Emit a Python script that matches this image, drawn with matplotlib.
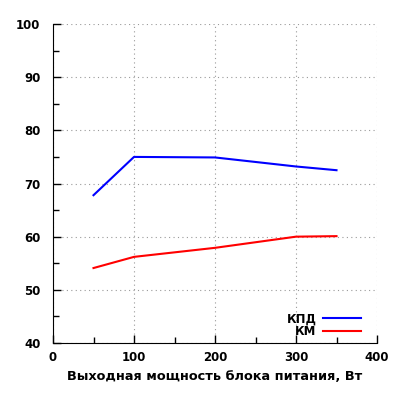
import matplotlib
matplotlib.use("Agg")
import matplotlib.pyplot as plt
from matplotlib.ticker import MultipleLocator

power = [50, 100, 200, 300, 350]
kpd = [67.8, 75.0, 74.9, 73.2, 72.5]
km = [54.1, 56.2, 57.9, 60.0, 60.1]

plt.rcParams['font.family'] = ['DejaVu Sans']
plt.rcParams['font.weight'] = 'bold'

fig = plt.figure(figsize=(4, 4), dpi=100)
ax = fig.add_axes([0.1325, 0.1425, 0.81, 0.7975])

ax.plot(power, kpd, color='#0000ff', lw=1.5, label='КПД')
ax.plot(power, km, color='#ff0000', lw=1.5, label='КМ')

ax.set_xlim(0, 400)
ax.set_ylim(40, 100)
ax.xaxis.set_major_locator(MultipleLocator(100))
ax.xaxis.set_minor_locator(MultipleLocator(50))
ax.yaxis.set_major_locator(MultipleLocator(10))
ax.yaxis.set_minor_locator(MultipleLocator(5))
ax.tick_params(which='both', direction='in', labelsize=8.5, width=1)
ax.tick_params(which='major', length=6)
ax.tick_params(which='minor', length=4)
ax.tick_params(axis='x', pad=6)
ax.tick_params(axis='y', pad=9)
for lab in ax.get_xticklabels() + ax.get_yticklabels():
    lab.set_fontweight('bold')
ax.spines['top'].set_visible(False)
ax.spines['right'].set_visible(False)
ax.grid(True, which='major', linestyle=(0, (1, 3)), color='#999999', lw=0.8)
ax.set_axisbelow(True)

ax.set_xlabel('Выходная мощность блока питания, Вт', fontsize=9.25, fontweight='bold', labelpad=4)

leg = ax.legend(loc='lower right', bbox_to_anchor=(0.966, 0.0), frameon=False, markerfirst=False,
                handlelength=3.2, labelspacing=0.0, borderaxespad=0.0, handletextpad=0.6,
                prop={'weight': 'bold', 'size': 8.5})

fig.savefig('out.png', dpi=100)
